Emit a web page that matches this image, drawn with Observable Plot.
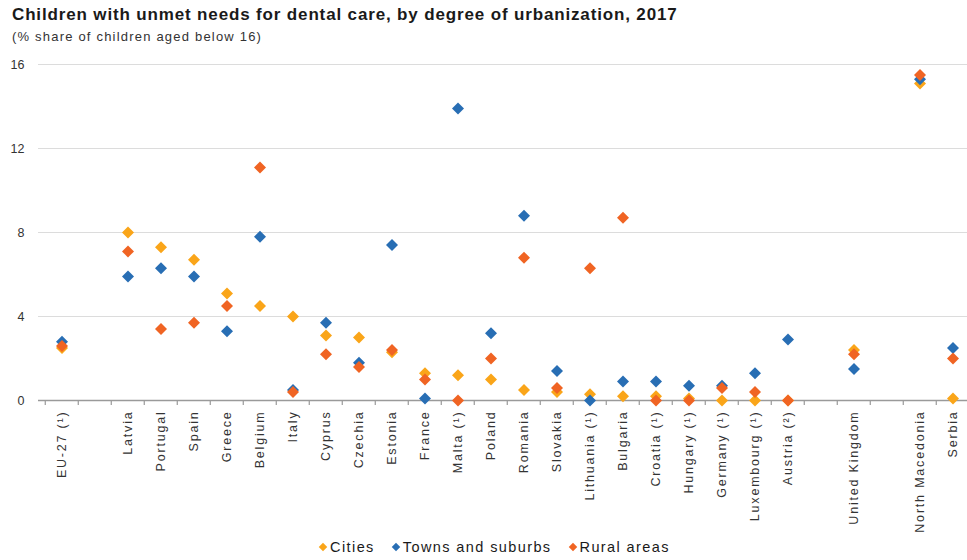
<!DOCTYPE html>
<html>
<head>
<meta charset="utf-8">
<script src="https://cdn.jsdelivr.net/npm/d3@7"></script>
<script src="https://cdn.jsdelivr.net/npm/@observablehq/plot@0.6"></script>
<style>
  html, body { margin: 0; padding: 0; background: #fff; }
  body { width: 967px; height: 560px; position: relative; overflow: hidden; font-family: "Liberation Sans", Arial, sans-serif; }
  #title { position: absolute; left: 12px; top: 5px; font-size: 17px; letter-spacing: 0.85px; font-weight: bold; color: #1a1a1a; white-space: nowrap; }
  #subtitle { position: absolute; left: 12px; top: 29px; font-size: 13px; letter-spacing: 1.2px; color: #333; white-space: nowrap; }
  #chart { position: absolute; left: 0; top: 50px; }
  #chart g[aria-label="x-axis tick label"] text { letter-spacing: 1.8px; }
  #legend { position: absolute; left: 0; width: 990px; top: 539px; text-align: center; font-size: 14.5px; letter-spacing: 1.4px; color: #1a1a1a; white-space: nowrap; }
  #legend span.item { margin: 0 9px; }
  #legend span.sw { display: inline-block; width: 6px; height: 6px; transform: rotate(45deg); margin-right: 4px; vertical-align: 2px; }
</style>
</head>
<body>
<div id="title">Children with unmet needs for dental care, by degree of urbanization, 2017</div>
<div id="subtitle">(% share of children aged below 16)</div>
<div id="chart"></div>
<div id="legend"></div>
<script>
// Categories (blank strings are empty slots on the axis)
const categories = ["EU-27 (¹)", " ", "Latvia", "Portugal", "Spain", "Greece", "Belgium", "Italy", "Cyprus", "Czechia", "Estonia", "France", "Malta (¹)", "Poland", "Romania", "Slovakia", "Lithuania (¹)", "Bulgaria", "Croatia (¹)", "Hungary (¹)", "Germany (¹)", "Luxembourg (¹)", "Austria (²)", "  ", "United Kingdom", "   ", "North Macedonia", "Serbia"];
const countries = ["EU-27 (¹)", "Latvia", "Portugal", "Spain", "Greece", "Belgium", "Italy", "Cyprus", "Czechia", "Estonia", "France", "Malta (¹)", "Poland", "Romania", "Slovakia", "Lithuania (¹)", "Bulgaria", "Croatia (¹)", "Hungary (¹)", "Germany (¹)", "Luxembourg (¹)", "Austria (²)", "United Kingdom", "North Macedonia", "Serbia"];
const cities = [2.5, 8.0, 7.3, 6.7, 5.1, 4.5, 4.0, 3.1, 3.0, 2.3, 1.3, 1.2, 1.0, 0.5, 0.4, 0.3, 0.2, 0.2, 0.1, 0.0, 0.0, 0.0, 2.4, 15.1, 0.1];
const towns = [2.8, 5.9, 6.3, 5.9, 3.3, 7.8, 0.5, 3.7, 1.8, 7.4, 0.1, 13.9, 3.2, 8.8, 1.4, 0.0, 0.9, 0.9, 0.7, 0.7, 1.3, 2.9, 1.5, 15.3, 2.5];
const rural = [2.6, 7.1, 3.4, 3.7, 4.5, 11.1, 0.4, 2.2, 1.6, 2.4, 1.0, 0.0, 2.0, 6.8, 0.6, 6.3, 8.7, 0.0, 0.0, 0.6, 0.4, 0.0, 2.2, 15.5, 2.0];
const seriesNames = ["Cities", "Towns and suburbs", "Rural areas"];
const seriesColors = ["#FAA519", "#286EB4", "#F06423"];
const yTicks = [0, 4, 8, 12, 16];

const seriesValues = [cities, towns, rural];
const data = [];
seriesNames.forEach((s, k) => countries.forEach((c, i) => data.push({country: c, series: s, value: seriesValues[k][i]})));

// square-rotated diamond symbol
const diamond = {
  draw(context, size) {
    const h = Math.sqrt(size / 2);
    context.moveTo(0, -h);
    context.lineTo(h, 0);
    context.lineTo(0, h);
    context.lineTo(-h, 0);
    context.closePath();
  }
};

const W = 967, H = 480;
const xLeft = 38, xRight = 975;
const step = (xRight - xLeft) / categories.length;

const chart = Plot.plot({
  width: W,
  height: H,
  marginTop: 14,
  marginBottom: 130,
  marginLeft: 38,
  marginRight: 0,
  style: {fontFamily: "'Liberation Sans', Arial, sans-serif", background: "#fff", overflow: "visible"},
  x: {type: "band", domain: categories, range: [xLeft, xRight], padding: 0},
  y: {domain: [0, 16], ticks: yTicks},
  color: {domain: seriesNames, range: seriesColors},
  marks: [
    Plot.ruleY(yTicks.filter(d => d > 0), {stroke: "#dcdcdc", strokeWidth: 1.2}),
    Plot.axisY({ticks: yTicks, tickSize: 0, tickPadding: 14, fontSize: 12.5, fill: "#333", label: null}),
    Plot.axisX({tickSize: 0, tickPadding: 10, tickRotate: -90, fontSize: 12.5, fill: "#333", label: null}),
    Plot.ruleY([0], {stroke: "#9a9a9a", strokeWidth: 1.5}),
    Plot.ruleX(categories, {x: d => d, y1: 0, y2: 0, dx: -step / 2, insetBottom: -5, stroke: "#9a9a9a", strokeWidth: 1.2}),
    Plot.ruleX(categories.slice(-1), {x: d => d, y1: 0, y2: 0, dx: step / 2, insetBottom: -5, stroke: "#9a9a9a", strokeWidth: 1.2}),
    Plot.dot(data, {x: "country", y: "value", fill: "series", symbol: diamond, r: 4.8, stroke: "none"})
  ]
});
document.getElementById("chart").appendChild(chart);

const legend = document.getElementById("legend");
seriesNames.forEach((s, k) => {
  const item = document.createElement("span");
  item.className = "item";
  const sw = document.createElement("span");
  sw.className = "sw";
  sw.style.background = seriesColors[k];
  item.appendChild(sw);
  item.appendChild(document.createTextNode(s));
  legend.appendChild(item);
});
</script>
</body>
</html>
